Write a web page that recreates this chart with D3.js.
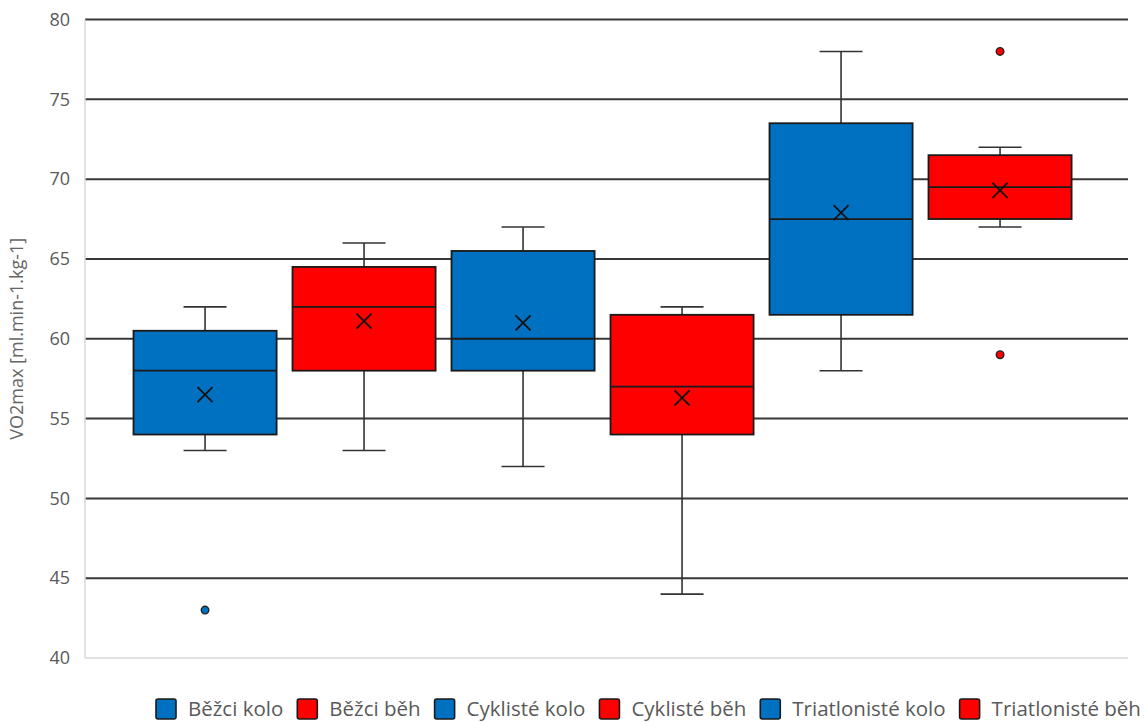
<!DOCTYPE html>
<html>
<head>
<meta charset="utf-8">
<script src="https://cdn.jsdelivr.net/npm/d3@7"></script>
<style>
  html, body { margin: 0; padding: 0; background: #fff; }
  svg { display: block; font-family: "Open Sans", "Noto Sans", sans-serif; }
</style>
</head>
<body>
<svg id="chart" width="1145" height="722"></svg>
<script>
// Box-plot statistics of VO2max per group
const groups   = ["Běžci kolo", "Běžci běh", "Cyklisté kolo", "Cyklisté běh", "Triatlonisté kolo", "Triatlonisté běh"];
const colors   = ["#0070C0", "#FF0000", "#0070C0", "#FF0000", "#0070C0", "#FF0000"];
const whiskLo  = [53, 53, 52, 44, 58, 67];
const q1       = [54, 58, 58, 54, 61.5, 67.5];
const median   = [58, 62, 60, 57, 67.5, 69.5];
const q3       = [60.5, 64.5, 65.5, 61.5, 73.5, 71.5];
const whiskHi  = [62, 66, 67, 62, 78, 72];
const means    = [56.5, 61.1, 61, 56.3, 67.9, 69.3];
const outliers = [[43], [], [], [], [], [78, 59]];
const yTicks   = [40, 45, 50, 55, 60, 65, 70, 75, 80];
const yTitle   = "VO2max [ml.min-1.kg-1]";

const svg = d3.select("#chart");
const plot = { left: 85, right: 1128, top: 19.5, bottom: 658 };

const y = d3.scaleLinear().domain([40, 80]).range([plot.bottom, plot.top]);
const x = d3.scaleBand().domain(groups).range([133.5, 1071.6]).paddingInner(0.1).paddingOuter(0);

// horizontal gridlines
svg.append("g").selectAll("line")
  .data(yTicks.filter(t => t > 40))
  .join("line")
  .attr("x1", plot.left).attr("x2", plot.right)
  .attr("y1", d => y(d)).attr("y2", d => y(d))
  .attr("stroke", "#383838").attr("stroke-width", 2);

// light frame: left and bottom axis lines
svg.append("line").attr("x1", plot.left).attr("x2", plot.left)
  .attr("y1", plot.top).attr("y2", plot.bottom)
  .attr("stroke", "#d9d9d9").attr("stroke-width", 1.5);
svg.append("line").attr("x1", plot.left).attr("x2", plot.right)
  .attr("y1", plot.bottom).attr("y2", plot.bottom)
  .attr("stroke", "#d9d9d9").attr("stroke-width", 1.5);

// y axis tick labels
const yAxis = d3.axisLeft(y).tickValues(yTicks).tickSize(0).tickPadding(15);
const ya = svg.append("g").attr("transform", `translate(${plot.left},0)`).call(yAxis);
ya.select(".domain").remove();
ya.selectAll("text").attr("fill", "#595959").style("font-size", "18px")
  .style("font-family", "'Open Sans', sans-serif");

// y axis title
svg.append("text")
  .attr("transform", `translate(23,${(plot.top + plot.bottom) / 2}) rotate(-90)`)
  .attr("text-anchor", "middle")
  .attr("fill", "#666").style("font-size", "18px")
  .text(yTitle);

// boxes
const bw = x.bandwidth();
const capW = 43;
const stats = groups.map((g, i) => ({
  g, i, lo: whiskLo[i], q1: q1[i], med: median[i], q3: q3[i], hi: whiskHi[i],
  mean: means[i], out: outliers[i], color: colors[i], cx: x(g) + bw / 2
}));

const box = svg.append("g").selectAll("g").data(stats).join("g");

// whiskers
box.append("line")
  .attr("x1", d => d.cx).attr("x2", d => d.cx)
  .attr("y1", d => y(d.hi)).attr("y2", d => y(d.q3))
  .attr("stroke", "#333").attr("stroke-width", 1.6);
box.append("line")
  .attr("x1", d => d.cx).attr("x2", d => d.cx)
  .attr("y1", d => y(d.q1)).attr("y2", d => y(d.lo))
  .attr("stroke", "#333").attr("stroke-width", 1.6);
box.append("line")
  .attr("x1", d => d.cx - capW / 2).attr("x2", d => d.cx + capW / 2)
  .attr("y1", d => y(d.hi)).attr("y2", d => y(d.hi))
  .attr("stroke", "#333").attr("stroke-width", 1.6);
box.append("line")
  .attr("x1", d => d.cx - capW / 2).attr("x2", d => d.cx + capW / 2)
  .attr("y1", d => y(d.lo)).attr("y2", d => y(d.lo))
  .attr("stroke", "#333").attr("stroke-width", 1.6);

// interquartile box
box.append("rect")
  .attr("x", d => x(d.g)).attr("width", bw)
  .attr("y", d => y(d.q3)).attr("height", d => y(d.q1) - y(d.q3))
  .attr("fill", d => d.color)
  .attr("stroke", "#1a1a1a").attr("stroke-width", 1.8);

// median
box.append("line")
  .attr("x1", d => x(d.g)).attr("x2", d => x(d.g) + bw)
  .attr("y1", d => y(d.med)).attr("y2", d => y(d.med))
  .attr("stroke", "#1a1a1a").attr("stroke-width", 1.8);

// mean marker (×)
const m = 7.5;
box.append("path")
  .attr("d", d => {
    const cy = y(d.mean);
    return `M${d.cx - m},${cy - m}L${d.cx + m},${cy + m}M${d.cx - m},${cy + m}L${d.cx + m},${cy - m}`;
  })
  .attr("stroke", "#111").attr("stroke-width", 1.8).attr("fill", "none");

// outliers
box.selectAll("circle")
  .data(d => d.out.map(v => ({ v, cx: d.cx, color: d.color })))
  .join("circle")
  .attr("cx", d => d.cx).attr("cy", d => y(d.v)).attr("r", 3.8)
  .attr("fill", d => d.color).attr("stroke", "#222").attr("stroke-width", 1.4);

// legend
const legend = svg.append("g").attr("transform", "translate(156,709)");
let lx = 0;
groups.forEach((g, i) => {
  const item = legend.append("g").attr("transform", `translate(${lx},0)`);
  item.append("rect").attr("x", 0).attr("y", -10).attr("width", 20).attr("height", 20)
    .attr("rx", 2)
    .attr("fill", colors[i]).attr("stroke", "#1a1a1a").attr("stroke-width", 1.6);
  const t = item.append("text").attr("x", 32).attr("y", 0).attr("dy", "0.35em")
    .attr("fill", "#595959").style("font-size", "20.5px").text(g);
  lx += 32 + t.node().getComputedTextLength() + 14;
});
</script>
</body>
</html>
